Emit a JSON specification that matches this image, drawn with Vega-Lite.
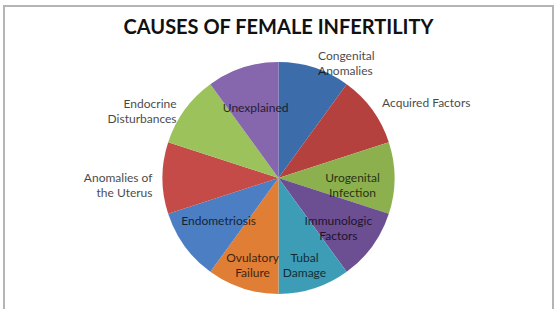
{
  "$schema": "https://vega.github.io/schema/vega-lite/v6.json",
  "width": 560,
  "height": 309,
  "autosize": {"type": "fit", "contains": "padding"},
  "padding": {"left": 3, "top": 5, "right": 6, "bottom": -42},
  "background": "#ffffff",
  "config": {
    "view": {"stroke": null},
    "font": "Lato"
  },
  "title": {
    "text": "CAUSES OF FEMALE INFERTILITY",
    "font": "Lato",
    "fontSize": 20,
    "fontWeight": "bold",
    "color": "#111111",
    "anchor": "middle",
    "baseline": "alphabetic",
    "offset": -49
  },
  "data": {
    "values": [
      {"cause": "Congenital Anomalies", "label": "Congenital\nAnomalies", "share": 10},
      {"cause": "Acquired Factors", "label": "Acquired Factors", "share": 10},
      {"cause": "Urogenital Infection", "label": "Urogenital\nInfection", "share": 10},
      {"cause": "Immunologic Factors", "label": "Immunologic\nFactors", "share": 10},
      {"cause": "Tubal Damage", "label": "Tubal\nDamage", "share": 10},
      {"cause": "Ovulatory Failure", "label": "Ovulatory\nFailure", "share": 10},
      {"cause": "Endometriosis", "label": "Endometriosis", "share": 10},
      {"cause": "Anomalies of the Uterus", "label": "Anomalies of\nthe Uterus", "share": 10},
      {"cause": "Endocrine Disturbances", "label": "Endocrine\nDisturbances", "share": 10},
      {"cause": "Unexplained", "label": "Unexplained", "share": 10}
    ]
  },
  "layer": [
    {
      "data": {"values": [{"frame": "chart area"}]},
      "mark": {"type": "rect", "fill": null, "stroke": "#b4b4b4", "strokeWidth": 2},
      "encoding": {}
    },
    {
      "mark": {"type": "arc", "outerRadius": 116},
      "encoding": {
        "theta": {"field": "share", "type": "quantitative", "stack": true},
        "order": {"field": "share", "type": "quantitative"},
        "color": {
          "field": "cause",
          "type": "nominal",
          "legend": null,
          "scale": {
            "domain": ["Congenital Anomalies", "Acquired Factors", "Urogenital Infection", "Immunologic Factors", "Tubal Damage", "Ovulatory Failure", "Endometriosis", "Anomalies of the Uterus", "Endocrine Disturbances", "Unexplained"],
            "range": ["#3d6caa", "#b5413f", "#8db04e", "#6c4e93", "#3e9db6", "#e07e35", "#4b7ec3", "#c44b48", "#9cc25c", "#8666ad"]
          }
        }
      }
    },
    {
      "mark": {"type": "text", "radius": 74, "fontSize": 12, "lineBreak": "\n", "lineHeight": 15, "fill": "#000000", "opacity": 0.72},
      "encoding": {
        "theta": {"field": "share", "type": "quantitative", "stack": true},
        "order": {"field": "share", "type": "quantitative"},
        "text": {
          "condition": {"test": "indexof(['Urogenital Infection','Immunologic Factors','Endometriosis','Unexplained'], datum.cause) >= 0", "field": "label"},
          "value": ""
        }
      }
    },
    {
      "mark": {"type": "text", "radius": 84, "fontSize": 12, "lineBreak": "\n", "lineHeight": 15, "fill": "#000000", "opacity": 0.72},
      "encoding": {
        "theta": {"field": "share", "type": "quantitative", "stack": true},
        "order": {"field": "share", "type": "quantitative"},
        "text": {
          "condition": {"test": "indexof(['Tubal Damage','Ovulatory Failure'], datum.cause) >= 0", "field": "label"},
          "value": ""
        }
      }
    },
    {
      "mark": {"type": "text", "radius": 128, "align": "left", "fontSize": 12, "lineBreak": "\n", "lineHeight": 15, "fill": "#000000", "opacity": 0.72},
      "encoding": {
        "theta": {"field": "share", "type": "quantitative", "stack": true},
        "order": {"field": "share", "type": "quantitative"},
        "text": {
          "condition": {"test": "indexof(['Congenital Anomalies','Acquired Factors'], datum.cause) >= 0", "field": "label"},
          "value": ""
        }
      }
    },
    {
      "mark": {"type": "text", "radius": 126, "align": "right", "fontSize": 12, "lineBreak": "\n", "lineHeight": 15, "fill": "#000000", "opacity": 0.72},
      "encoding": {
        "theta": {"field": "share", "type": "quantitative", "stack": true},
        "order": {"field": "share", "type": "quantitative"},
        "text": {
          "condition": {"test": "indexof(['Endocrine Disturbances','Anomalies of the Uterus'], datum.cause) >= 0", "field": "label"},
          "value": ""
        }
      }
    }
  ]
}
